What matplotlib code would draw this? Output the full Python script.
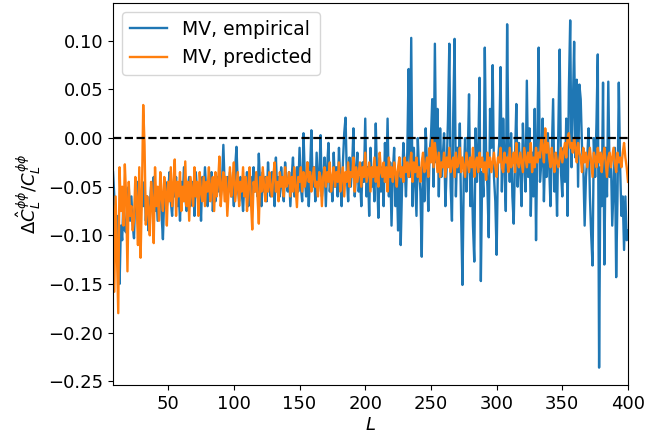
import numpy as np
import matplotlib
matplotlib.use("Agg")
import matplotlib.pyplot as plt

L_min, L_max = 8, 400
L = np.arange(L_min, L_max + 1)

mv_empirical = [
    -0.035, -0.060, -0.095, -0.080, -0.120, -0.150, -0.090, -0.105, -0.060, -0.095,
    -0.097, -0.070, -0.050, -0.085, -0.060, -0.090, -0.103, -0.055, -0.075, -0.045,
    -0.065, -0.080, -0.055, -0.070, -0.045, -0.085, -0.060, -0.095, -0.070, -0.050,
    -0.065, -0.040, -0.075, -0.055, -0.085, -0.060, -0.050, -0.080, -0.104, -0.060,
    -0.045, -0.070, -0.055, -0.035, -0.065, -0.080, -0.050, -0.060, -0.040, -0.070,
    -0.055, -0.085, -0.045, -0.065, -0.030, -0.060, -0.075, -0.050, -0.040, -0.070,
    -0.060, -0.045, -0.080, -0.035, -0.055, -0.065, -0.050, -0.085, -0.040, -0.060,
    -0.030, -0.055, -0.070, -0.045, -0.060, -0.035, -0.075, -0.050, -0.065, -0.040,
    -0.055, -0.030, -0.060, -0.045, -0.007, -0.050, -0.065, -0.040, -0.055, -0.035,
    -0.060, -0.045, -0.070, -0.030, -0.009, -0.050, -0.065, -0.040, -0.055, -0.075,
    -0.045, -0.060, -0.035, -0.070, -0.050, -0.040, -0.065, -0.030, -0.055, -0.045,
    -0.060, -0.016, -0.050, -0.070, -0.035, -0.055, -0.040, -0.065, -0.025, -0.050,
    -0.060, -0.035, -0.045, -0.070, -0.020, -0.055, -0.040, -0.060, -0.030, -0.050,
    -0.065, -0.025, -0.045, -0.055, -0.035, -0.070, -0.040, -0.020, -0.060, -0.045,
    -0.030, -0.055, -0.010, -0.050, -0.065, 0.005, -0.040, -0.060, -0.025, -0.070,
    -0.035, 0.008, -0.050, -0.030, -0.065, -0.015, -0.055, -0.040, 0.003, -0.060,
    -0.045, -0.020, -0.070, -0.030, -0.005, -0.055, -0.040, -0.065, -0.015, -0.050,
    -0.030, -0.060, -0.010, -0.045, -0.070, -0.025, 0.005, 0.021, -0.040, -0.065,
    -0.020, -0.050, -0.030, 0.010, -0.060, -0.035, -0.015, -0.055, -0.040, -0.070,
    -0.025, -0.045, 0.020, -0.060, -0.030, -0.080, -0.010, -0.050, -0.035, -0.065,
    0.015, -0.040, -0.082, -0.020, -0.055, -0.030, -0.070, -0.005, -0.045, 0.020,
    -0.060, -0.025, -0.090, -0.035, -0.010, -0.070, -0.040, -0.095, -0.020, -0.110,
    -0.050, -0.005, -0.030, -0.060, -0.015, 0.071, -0.040, 0.103, -0.070, -0.010,
    -0.045, -0.080, 0.000, -0.035, -0.055, -0.122, -0.020, -0.065, 0.010, -0.030,
    -0.075, -0.015, 0.000, 0.040, -0.050, 0.097, -0.025, 0.030, -0.060, 0.010,
    -0.040, -0.020, 0.005, -0.070, -0.030, 0.020, 0.097, -0.050, -0.085, 0.025,
    0.102, -0.060, -0.010, -0.035, 0.015, -0.080, -0.151, -0.040, 0.000, -0.055,
    -0.020, 0.045, -0.070, -0.030, -0.090, -0.127, 0.010, -0.045, -0.015, 0.062,
    -0.147, -0.035, -0.060, 0.093, -0.020, -0.050, -0.102, 0.030, -0.010, 0.075,
    -0.040, -0.065, -0.120, -0.025, -0.005, 0.073, -0.055, 0.020, -0.030, -0.075,
    0.117, -0.010, -0.045, 0.005, -0.060, -0.088, -0.020, 0.035, -0.050, -0.005,
    -0.035, -0.070, 0.015, -0.025, -0.055, 0.059, -0.040, 0.010, -0.080, -0.015,
    -0.060, 0.030, -0.105, 0.000, 0.093, -0.045, -0.025, 0.020, -0.065, -0.010,
    -0.040, 0.005, -0.030, -0.070, -0.015, 0.040, -0.055, -0.025, -0.080, 0.010,
    0.091, -0.035, -0.060, -0.010, -0.045, 0.020, -0.080, 0.050, 0.121, -0.030,
    0.030, 0.099, -0.020, 0.060, -0.050, 0.055, 0.040, -0.010, -0.030, -0.090,
    -0.040, -0.020, 0.010, -0.060, -0.100, -0.131, 0.000, -0.040, 0.015, 0.086,
    -0.236, -0.030, -0.070, 0.057, -0.130, -0.010, -0.060, 0.058, -0.040, -0.020,
    -0.090, -0.050, -0.010, -0.143, -0.060, 0.057, -0.030, -0.080, -0.060, -0.115,
    -0.060, -0.105, -0.095,
]

mv_predicted = [
    -0.070, -0.158, -0.060, -0.120, -0.180, -0.030, -0.075, -0.050, -0.090, -0.027,
    -0.060, -0.137, -0.045, -0.080, -0.070, -0.095, -0.084, -0.040, -0.065, -0.110,
    -0.030, -0.123, -0.060, 0.034, -0.007, -0.089, -0.060, -0.075, -0.100, -0.045,
    -0.065, -0.108, -0.030, -0.070, -0.050, -0.085, -0.035, -0.060, -0.075, -0.040,
    -0.055, -0.090, -0.045, -0.065, -0.030, -0.070, -0.050, -0.022, -0.080, -0.045,
    -0.060, -0.035, -0.075, -0.050, -0.065, -0.024, -0.070, -0.045, -0.085, -0.040,
    -0.055, -0.070, -0.030, -0.060, -0.045, -0.080, -0.035, -0.055, -0.065, -0.040,
    -0.070, -0.045, -0.055, -0.030, -0.065, -0.050, -0.040, -0.075, -0.035, -0.060,
    -0.045, -0.019, -0.070, -0.050, -0.035, -0.065, -0.040, -0.080, -0.055, -0.030,
    -0.060, -0.045, -0.025, -0.065, -0.050, -0.035, -0.070, -0.045, -0.055, -0.030,
    -0.060, -0.040, -0.075, -0.050, -0.030, -0.065, -0.094, -0.045, -0.055, -0.035,
    -0.060, -0.088, -0.040, -0.055, -0.030, -0.050, -0.065, -0.040, -0.055, -0.035,
    -0.050, -0.060, -0.040, -0.025, -0.055, -0.045, -0.065, -0.035, -0.050, -0.040,
    -0.060, -0.030, -0.050, -0.045, -0.035, -0.060, -0.040, -0.055, -0.030, -0.050,
    -0.071, -0.040, -0.045, -0.030, -0.055, -0.035, -0.050, -0.040, -0.025, -0.045,
    -0.035, -0.055, -0.040, -0.030, -0.050, -0.045, -0.060, -0.035, -0.040, -0.070,
    -0.040, -0.030, -0.050, -0.035, -0.045, -0.025, -0.055, -0.040, -0.030, -0.050,
    -0.035, -0.045, -0.025, -0.055, -0.040, -0.030, -0.060, -0.035, -0.045, -0.025,
    -0.050, -0.035, -0.040, -0.020, -0.055, -0.030, -0.045, -0.035, -0.025, -0.050,
    -0.030, -0.040, -0.015, -0.045, -0.035, -0.025, -0.055, -0.030, -0.040, -0.020,
    -0.045, -0.030, -0.050, -0.015, -0.035, -0.040, -0.025, -0.045, -0.030, -0.055,
    -0.020, -0.040, -0.030, -0.045, -0.025, -0.035, -0.050, -0.030, -0.020, -0.040,
    -0.030, -0.045, -0.020, -0.035, -0.025, -0.040, -0.030, -0.015, -0.045, -0.025,
    -0.035, -0.020, -0.040, -0.030, -0.045, -0.025, -0.015, -0.035, -0.030, -0.020,
    -0.040, -0.010, -0.025, 0.000, -0.030, -0.005, -0.020, -0.035, -0.015, -0.040,
    -0.025, -0.030, -0.015, -0.040, -0.020, -0.030, -0.010, -0.035, -0.025, -0.020,
    -0.040, -0.015, -0.030, -0.025, -0.010, -0.035, -0.020, -0.030, -0.040, -0.015,
    -0.025, -0.035, -0.020, -0.030, -0.010, -0.040, -0.025, -0.020, -0.035, -0.015,
    -0.030, -0.020, -0.035, -0.025, -0.043, -0.015, -0.030, -0.020, -0.035, -0.025,
    -0.015, -0.030, -0.040, -0.020, -0.025, -0.010, -0.030, -0.035, -0.015, -0.025,
    -0.020, -0.035, -0.010, -0.030, -0.025, -0.015, -0.035, -0.005, -0.025, -0.030,
    -0.015, -0.025, -0.035, -0.010, -0.020, -0.030, -0.015, -0.025, -0.005, -0.035,
    -0.020, -0.030, -0.010, -0.025, -0.015, -0.020, 0.000, -0.010, -0.025, 0.010,
    -0.015, -0.005, -0.020, -0.030, -0.010, -0.025, -0.035, -0.015, -0.025, -0.030,
    -0.020, -0.010, -0.025, -0.015, -0.005, -0.020, 0.000, 0.005, -0.010, -0.005,
    -0.015, 0.000, -0.010, -0.025, -0.005, -0.015, -0.020, -0.035, -0.010, -0.025,
    -0.015, -0.030, -0.020, -0.010, -0.025, -0.040, -0.015, -0.020, -0.030, -0.010,
    -0.025, -0.015, -0.035, -0.020, -0.010, -0.025, -0.040, -0.020, -0.015, -0.030,
    -0.020, -0.010, -0.025, -0.035, -0.015, -0.025, -0.020, -0.030, -0.015, -0.005,
    -0.020, -0.030, -0.045,
]

series_labels = ["MV, empirical", "MV, predicted"]

fig = plt.figure(figsize=(6.68, 4.38), dpi=100)
ax = fig.add_axes([113 / 668, 53 / 438, 515 / 668, 382 / 438])

ax.plot(L, mv_empirical, color="#1f77b4", lw=1.7, label=series_labels[0])
ax.plot(L, mv_predicted, color="#ff7f0e", lw=1.7, label=series_labels[1])
ax.axhline(0.0, color="black", ls="--", lw=1.6)

ax.set_xlim(L_min, L_max)
ax.set_xticks([50, 100, 150, 200, 250, 300, 350, 400])
ax.set_yticks([-0.25, -0.20, -0.15, -0.10, -0.05, 0.00, 0.05, 0.10])
ax.tick_params(labelsize=13)
ax.set_xlabel(r"$L$", fontsize=13, labelpad=2)
ax.set_ylabel(r"$\Delta\hat{C}_L^{\phi\phi}/C_L^{\phi\phi}$", fontsize=13, labelpad=4)
ax.legend(loc="upper left", fontsize=13.5)

fig.savefig("out.png", dpi=100)
